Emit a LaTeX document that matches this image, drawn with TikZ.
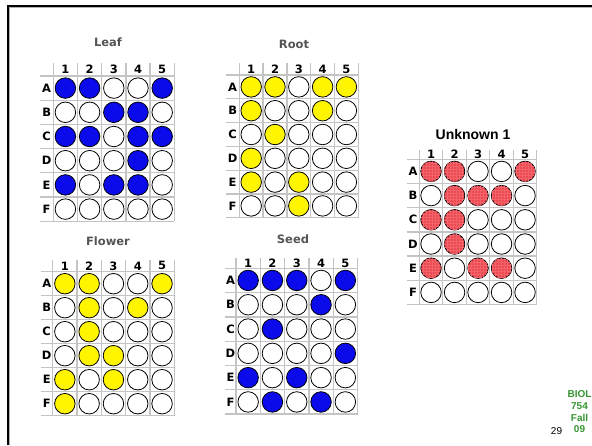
\documentclass[tikz,border=0pt]{standalone}
\usepackage{fontspec}
\setmainfont{DejaVu Sans}
\newfontfamily\arialf{Liberation Sans}
\usetikzlibrary{patterns}
\definecolor{wellblue}{RGB}{10,10,235}
\definecolor{wellyellow}{RGB}{255,245,0}
\definecolor{unkred}{RGB}{238,72,80}
\definecolor{gridgray}{RGB}{196,196,196}
\definecolor{titlegray}{RGB}{85,85,85}
\definecolor{coursegreen}{RGB}{56,150,50}
\tikzset{
  gridline/.style={draw=gridgray, line width=1.3pt},
  hdr/.style={font=\bfseries\fontsize{11.5}{13}\selectfont, inner sep=0pt, text=black},
  ptitle/.style={font=\bfseries\fontsize{11.5}{14}\selectfont, text=titlegray, inner sep=0pt},
  well/.style={circle, draw=black, line width=0.8pt, minimum size=20.5pt, inner sep=0pt},
  emptywell/.style={fill=white},
  bluewell/.style={fill=wellblue},
  yellowwell/.style={fill=wellyellow},
  redwell/.style={fill=unkred, postaction={pattern=grid, pattern color=unkred!85!white}},
}
% #1 name, #2 x of column 1 left, #3 header top, #4 row A top, #5 col width,
% #6 row height, #7 label column left, #8 filled style, #9 30 values
\newcommand\plate[9]{%
  \foreach \i in {0,...,6}
    \draw[gridline] (#7,{#4+\i*#6}) -- ({#2+5*#5},{#4+\i*#6});
  \foreach \j in {0,...,5}
    \draw[gridline] ({#2+\j*#5},#3) -- ({#2+\j*#5},{#4+6*#6});
  \foreach \j in {1,...,5}
    \node[hdr] (#1-h\j) at ({#2+(\j-0.5)*#5},{(#3+#4)/2}) {\j};
  \foreach \l [count=\i] in {A,B,C,D,E,F}
    \node[hdr] (#1-\l) at ({(#7+#2)/2},{#4+(\i-0.5)*#6}) {\l};
  \foreach \v [count=\k from 0] in {#9} {
    \pgfmathtruncatemacro\rr{div(\k,5)}
    \pgfmathtruncatemacro\cc{mod(\k,5)}
    \ifnum\v=1
      \node[well,#8] (#1-w\rr\cc) at ({#2+(\cc+0.5)*#5},{#4+(\rr+0.5)*#6}) {};
    \else
      \node[well,emptywell] (#1-w\rr\cc) at ({#2+(\cc+0.5)*#5},{#4+(\rr+0.5)*#6}) {};
    \fi
  }%
}
\begin{document}
\begin{tikzpicture}[x=1pt,y=-1pt]
\useasboundingbox (0,0) rectangle (592,445);
\fill[white] (0,0) rectangle (592,445);
% slide frame
\draw[gray!60, line width=1pt] (9.8,445) -- (9.8,7.8) -- (592,7.8);
\draw[black, line width=2pt] (8,445) -- (8,6) -- (592,6);

% titles
\node[ptitle] (tleaf) at (108,42) {Leaf};
\node[ptitle] (troot) at (294,44) {Root};
\node[ptitle] (tflower) at (108,241) {Flower};
\node[ptitle] (tseed) at (293,239) {Seed};
\node[font=\arialf\bfseries\fontsize{14}{16}\selectfont, inner sep=0pt] (tunk) at (473,134) {Unknown 1};

% Leaf
\plate{leaf}{53.3}{63}{76}{24.2}{24.2}{40}{bluewell}{
1,1,0,0,1,
0,0,1,1,0,
1,1,0,1,1,
0,0,0,1,0,
1,0,1,1,0,
0,0,0,0,0}
% Root
\plate{root}{239.3}{63.3}{75}{23.8}{23.8}{226}{yellowwell}{
1,1,0,1,1,
1,0,0,1,0,
0,1,0,0,0,
1,0,0,0,0,
1,0,1,0,0,
0,0,1,0,0}
% Flower
\plate{flower}{52.7}{260}{271.7}{24.3}{24}{40.7}{yellowwell}{
1,1,0,0,1,
0,1,0,1,0,
0,1,0,0,0,
0,1,1,0,0,
1,0,1,0,0,
1,0,0,0,0}
% Seed
\plate{seed}{236}{258.3}{268.3}{24.3}{24.3}{225}{bluewell}{
1,1,1,0,1,
0,0,0,1,0,
0,1,0,0,0,
0,0,0,0,1,
1,0,1,0,0,
0,1,0,1,0}
% Unknown 1
\plate{unk}{419.3}{150}{159.3}{23.5}{24.2}{406.7}{redwell}{
1,1,0,0,1,
0,1,1,1,0,
1,1,0,0,0,
0,1,0,0,0,
1,0,1,1,0,
0,0,0,0,0}

% footer
\node[font=\arialf\bfseries\fontsize{10}{11.7}\selectfont, text=coursegreen, align=center, inner sep=0pt, anchor=north] (course) at (579.5,390.5) {BIOL\\754\\Fall\\09};
\node[font=\arialf\fontsize{10}{12}\selectfont, inner sep=0pt] (pagenum) at (556.5,431.5) {29};
\end{tikzpicture}
\end{document}
